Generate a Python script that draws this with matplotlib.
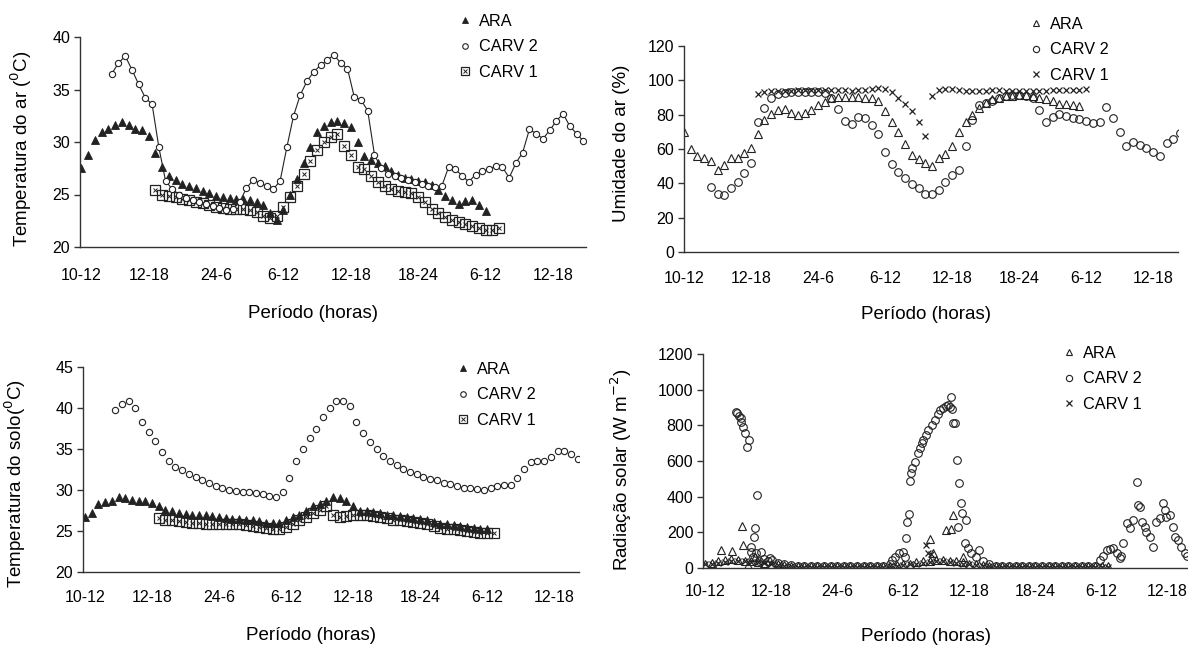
import numpy as np
import matplotlib
matplotlib.use("Agg")
import matplotlib.pyplot as plt
from matplotlib.lines import Line2D

plt.rcParams['font.family'] = ['Liberation Sans', 'DejaVu Sans']

periods = ['10-12', '12-18', '24-6', '6-12', '12-18', '18-24', '6-12', '12-18']
STEP = 0.1  # readings every 0.1 period slot

# --- air temperature (C) ---
air_ara_t0 = 0.0
air_ara = [27.5, 28.8, 30.2, 31.0, 31.2, 31.6, 31.9, 31.6, 31.2, 31.1, 30.6, 29.0, 27.6, 26.8, 26.4,
           26.0, 25.8, 25.6, 25.3, 25.1, 24.9, 24.8, 24.7, 24.6, 24.6, 24.5, 24.3, 24.0, 23.2, 22.6,
           23.5, 25.0, 26.5, 28.0, 29.5, 31.0, 31.5, 31.9, 32.0, 31.8, 31.4, 30.0, 28.7, 28.3, 28.0,
           27.7, 27.2, 26.9, 26.6, 26.5, 26.3, 26.2, 25.9, 25.4, 24.9, 24.5, 24.1, 24.4, 24.5, 24.0, 23.4]
air_carv2_t0 = 0.45
air_carv2 = [36.5, 37.5, 38.2, 36.9, 35.5, 34.2, 33.6, 29.5, 26.3, 25.5, 25.0, 24.7, 24.5, 24.3, 24.1,
             23.9, 23.7, 23.5, 23.6, 24.3, 25.6, 26.4, 26.1, 25.8, 25.5, 26.3, 29.5, 32.5, 34.5, 35.8,
             36.7, 37.3, 37.8, 38.3, 37.5, 37.0, 34.3, 34.0, 33.0, 28.8, 27.5, 27.0, 26.8, 26.6, 26.4,
             26.2, 26.0, 25.8, 25.7, 25.8, 27.6, 27.4, 26.8, 26.2, 26.9, 27.2, 27.4, 27.7, 27.6, 26.6,
             28.0, 29.0, 31.2, 30.8, 30.3, 31.1, 32.0, 32.7, 31.5, 30.8, 30.1]
air_carv1_t0 = 1.1
air_carv1 = [25.4, 25.0, 24.9, 24.8, 24.6, 24.5, 24.3, 24.2, 24.0, 23.8, 23.7, 23.6, 23.6, 23.6, 23.5,
             23.3, 23.0, 22.8, 23.0, 23.8, 24.8, 25.8, 27.0, 28.2, 29.2, 30.0, 30.5, 30.8, 29.6, 28.8,
             27.6, 27.4, 26.8, 26.2, 25.8, 25.5, 25.3, 25.2, 25.1, 24.8, 24.3, 23.6, 23.2, 22.9, 22.6,
             22.4, 22.2, 22.0, 21.8, 21.6, 21.6, 21.8]

# --- air humidity (%) ---
hum_ara_t0 = 0.0
hum_ara = [70, 60, 56, 55, 53, 48, 50.5, 55, 55, 57.5, 60.5, 68.5, 77, 80.5, 82.5, 83.5, 81, 80, 81, 83,
           85.5, 87.5, 90, 90.5, 90.5, 90.5, 90.5, 90, 89.5, 88, 82, 76, 70, 63, 56.5, 54, 52, 50, 55, 57,
           61.5, 70, 76, 80, 84, 87, 89, 90, 91, 91, 91.5, 91.5, 91, 90, 89, 88, 86.5, 86, 85.5, 85]
hum_carv2_t0 = 0.4
hum_carv2 = [38, 33.5, 33.0, 37.5, 40.5, 46.0, 52.0, 76.0, 84.0, 89.5, 92.0, 92.5, 93.0, 93.0, 93.0,
             93.2, 93.0, 92.5, 90.0, 83.5, 76.5, 74.5, 78.5, 78.0, 74.0, 69.0, 58.0, 51.5, 46.5, 43.0,
             39.5, 37.0, 34.0, 34.0, 36.0, 40.5, 45.0, 47.5, 62.0, 77.0, 85.5, 87.0, 88.0, 90.0, 91.0,
             91.5, 91.5, 91.0, 89.5, 83.0, 76.0, 78.5, 80.5, 79.5, 78.0, 77.5, 76.5, 75.0, 75.5, 84.5,
             78.0, 70.0, 62.0, 64.0, 62.5, 60.5, 58.5, 56.0, 63.5, 66.0, 69.5]
hum_carv1_t0 = 1.1
hum_carv1 = [92.0, 93.0, 93.5, 93.8, 94.0, 94.0, 94.2, 94.3, 94.5, 94.5, 94.6, 94.6, 94.5, 94.2, 94.0,
             94.2, 94.5, 95.0, 95.3, 95.0, 93.0, 90.0, 86.0, 82.0, 76.0, 67.5, 91.0, 94.5, 95.0, 94.8,
             94.5, 94.0, 93.8, 93.8, 94.0, 94.2, 94.2, 94.0, 93.8, 93.5, 93.5, 93.8, 94.0, 94.0, 94.2,
             94.3, 94.5, 94.5, 94.6, 94.8]

# --- soil temperature (C) ---
soil_ara_t0 = 0.0
soil_ara = [26.7, 27.2, 28.3, 28.5, 28.7, 29.2, 29.0, 28.8, 28.7, 28.6, 28.4, 28.0, 27.6, 27.4, 27.2,
            27.1, 27.0, 27.0, 26.9, 26.8, 26.7, 26.6, 26.5, 26.5, 26.4, 26.3, 26.2, 26.0, 26.0, 26.0,
            26.3, 26.7, 27.0, 27.4, 28.0, 28.3, 28.7, 29.2, 29.0, 28.6, 28.0, 27.5, 27.4, 27.3, 27.2,
            27.0, 26.9, 26.8, 26.7, 26.6, 26.5, 26.3, 26.1, 25.9, 25.8, 25.7, 25.6, 25.5, 25.4, 25.3, 25.2]
soil_carv2_t0 = 0.45
soil_carv2 = [39.8, 40.5, 40.8, 40.0, 38.3, 37.1, 36.0, 34.6, 33.5, 32.8, 32.4, 32.0, 31.6, 31.2, 30.8,
              30.5, 30.2, 30.0, 29.9, 29.8, 29.7, 29.6, 29.5, 29.3, 29.2, 29.8, 31.5, 33.5, 35.0, 36.3,
              37.4, 38.9, 40.0, 40.8, 40.9, 40.2, 38.3, 37.0, 35.8, 35.0, 34.2, 33.5, 33.0, 32.6, 32.2,
              31.9, 31.6, 31.4, 31.2, 30.9, 30.7, 30.5, 30.3, 30.2, 30.1, 30.0, 30.2, 30.5, 30.6, 30.6,
              31.5, 32.6, 33.4, 33.5, 33.5, 34.0, 34.7, 34.7, 34.4, 33.8]
soil_carv1_t0 = 1.1
soil_carv1 = [26.6, 26.4, 26.3, 26.2, 26.1, 26.0, 26.0, 25.9, 25.9, 25.9, 25.8, 25.8, 25.8, 25.7, 25.6,
              25.5, 25.4, 25.3, 25.3, 25.5, 25.9, 26.3, 26.7, 27.2, 27.6, 28.0, 27.0, 26.7, 26.8, 27.0,
              27.0, 26.9, 26.8, 26.7, 26.6, 26.4, 26.3, 26.2, 26.1, 26.0, 25.8, 25.6, 25.4, 25.3, 25.2,
              25.1, 25.0, 24.9, 24.8, 24.7, 24.8]

# --- solar radiation (W m-2) ---
rad_ara_t0 = 0.0
rad_ara = [25, 30, 38, 45, 48, 45, 42, 38, 35, 30, 25, 20, 15, 12,
           10, 10, 10, 10, 10, 10, 10, 10, 10, 10, 10, 10, 10, 10,
           12, 15, 20, 25, 32, 38, 42, 45, 45, 42, 38, 32, 25, 20, 15, 12,
           10, 10, 10, 10, 10, 10, 10, 10, 10, 10, 10, 10, 10, 10, 10, 10, 10, 10]
rad_ara_peak_t = [0.24, 0.41, 0.56, 0.57, 0.65, 0.75, 3.40, 3.45, 3.65, 3.72, 3.75, 3.90]
rad_ara_peak = [101, 93, 236, 130, 15, 60, 163, 82, 213, 218, 297, 60]
rad_carv1_t0 = 0.0
rad_carv1 = [20, 25, 30, 35, 38, 40, 38, 35, 32, 28, 22, 18, 14, 12,
             8, 8, 8, 8, 8, 8, 8, 8, 8, 8, 8, 8, 8, 8,
             10, 12, 15, 20, 25, 30, 35, 38, 38, 35, 30, 25, 20, 15, 12, 10,
             8, 8, 8, 8, 8, 8, 8, 8, 8, 8, 8, 8, 8, 8, 8, 8, 8, 8]
rad_carv1_peak_t = [3.35, 3.38, 3.42]
rad_carv1_peak = [129, 85, 80]
rad_carv2_t = [0.47, 0.49, 0.52, 0.54, 0.55, 0.58, 0.61, 0.63, 0.66, 0.69, 0.70, 0.72, 0.74, 0.75, 0.77,
               0.79, 0.82, 0.85, 0.90, 0.95, 0.98, 1.02, 1.10, 1.20, 1.30,
               1.4, 1.5, 1.6, 1.7, 1.8, 1.9, 2.0, 2.1, 2.2, 2.3, 2.4, 2.5, 2.6, 2.7,
               2.80, 2.83, 2.88, 2.93, 2.99, 3.02, 3.04, 3.05, 3.08, 3.10, 3.11, 3.14, 3.18, 3.22, 3.25,
               3.28, 3.30, 3.34, 3.38, 3.43, 3.48, 3.53, 3.56, 3.60, 3.64, 3.68, 3.71, 3.73, 3.74, 3.76,
               3.78, 3.81, 3.83, 3.85, 3.88, 3.89, 3.93, 3.95, 3.98, 4.03, 4.10, 4.15, 4.20, 4.30, 4.40,
               4.5, 4.6, 4.7, 4.8, 4.9, 5.0, 5.1, 5.2, 5.3, 5.4, 5.5, 5.6, 5.7, 5.8, 5.9,
               5.98, 6.03, 6.08, 6.13, 6.18, 6.23, 6.28, 6.30, 6.33, 6.38, 6.43, 6.48, 6.53, 6.55, 6.58,
               6.61, 6.66, 6.68, 6.73, 6.78, 6.83, 6.88, 6.93, 6.96, 6.98, 7.03, 7.08, 7.11, 7.16, 7.21,
               7.26, 7.30]
rad_carv2 = [877, 867, 852, 839, 820, 789, 755, 680, 718, 92, 120, 60, 176, 222, 82,
             409, 40, 92, 50, 40, 54, 45, 30, 20, 15,
             10, 10, 10, 10, 10, 10, 10, 10, 10, 10, 10, 10, 10, 10,
             20, 45, 60, 82, 92, 60, 170, 256, 305, 488, 531, 559, 596, 643, 671,
             699, 718, 746, 774, 802, 830, 863, 885, 900, 910, 912, 905, 961, 890, 811,
             811, 606, 232, 475, 363, 307, 138, 269, 110, 82, 60, 101, 40, 20, 12,
             10, 10, 10, 10, 10, 10, 10, 10, 10, 10, 10, 10, 10, 10, 10,
             45, 70, 101, 105, 110, 82, 54, 70, 138, 250, 222, 269, 484, 353, 344,
             260, 232, 204, 176, 120, 260, 278, 363, 325, 288, 300, 232, 176, 157, 120,
             82, 70]

W, H = 1188, 646
INK = '#222222'
fig = plt.figure(figsize=(W / 100, H / 100), dpi=100)


def make_axes(left, top, right, bottom):
    return fig.add_axes([left / W, 1 - bottom / H, (right - left) / W, (bottom - top) / H])


def slots(t0, vals):
    return t0 + STEP * np.arange(len(vals))


def style(ax, xlim, ylim, yticks, ylabel, ylab_xy, xlab_xy, xpad):
    ax.set_xlim(*xlim)
    ax.set_ylim(*ylim)
    ax.set_yticks(yticks)
    ax.set_xticks(range(len(periods)))
    ax.set_xticklabels(periods)
    for s in ['top', 'right']:
        ax.spines[s].set_visible(False)
    for s in ['left', 'bottom']:
        ax.spines[s].set_color('#333333')
        ax.spines[s].set_linewidth(1.0)
    ax.tick_params(axis='x', length=0, pad=xpad, labelsize=11.5)
    ax.tick_params(axis='y', length=4, width=1, color='#333333', pad=3, labelsize=11.5)
    ax.set_ylabel(ylabel, fontsize=13.5)
    ax.set_xlabel('Período (horas)', fontsize=13.5)
    ax.yaxis.set_label_coords(*ylab_xy)
    ax.xaxis.set_label_coords(*xlab_xy)


def legend(ax, handles, left, top):
    ax.legend(handles, ['ARA', 'CARV 2', 'CARV 1'], loc='upper left',
              bbox_to_anchor=(left / W, 1 - top / H), bbox_transform=fig.transFigure,
              frameon=False, fontsize=11.7, handlelength=1.0, handletextpad=0.35,
              labelspacing=0.64, borderpad=0, borderaxespad=0)


tri_f = dict(ls='none', marker='^', ms=5.5, color=INK, mfc=INK, mew=0.6)
tri_o = dict(ls='none', marker='^', ms=5.5, color=INK, mfc='none', mew=0.8)
circ_s = dict(ls='none', marker='o', ms=4.5, color=INK, mfc='white', mew=0.8)
circ_o = dict(ls='none', marker='o', ms=5.5, color=INK, mfc='none', mew=0.8)
sq = dict(ls='none', marker='s', ms=7, color=INK, mfc='none', mew=0.9)
sq_x = dict(ls='none', marker='x', ms=3.5, color=INK, mew=0.7)
cross = dict(ls='none', marker='x', ms=5, color=INK, mew=0.9)


def box_handle():
    return (Line2D([], [], **dict(sq, ms=6)), Line2D([], [], **sq_x))


# panel 1: air temperature
ax1 = make_axes(80, 37, 586, 247)
x = slots(air_ara_t0, air_ara)
ax1.plot(x, air_ara, **tri_f)
x = slots(air_carv1_t0, air_carv1)
ax1.plot(x, air_carv1, **sq)
ax1.plot(x, air_carv1, **sq_x)
x = slots(air_carv2_t0, air_carv2)
ax1.plot(x, air_carv2, '-', color=INK, lw=0.8)
ax1.plot(x, air_carv2, **circ_s)
style(ax1, (-0.02, 7.49), (20, 40), range(20, 41, 5), 'Temperatura do ar ($^0$C)',
      (-0.09, 0.47), (0.46, -0.275), 15)
legend(ax1, [Line2D([], [], **dict(tri_f, ms=4.5)), Line2D([], [], **dict(circ_s, ms=4)),
             box_handle()], 457, 14)

# panel 2: air humidity
ax2 = make_axes(684, 46, 1178, 252)
ax2.plot(slots(hum_ara_t0, hum_ara), hum_ara, **tri_o)
ax2.plot(slots(hum_carv2_t0, hum_carv2), hum_carv2, **circ_o)
ax2.plot(slots(hum_carv1_t0, hum_carv1), hum_carv1, **cross)
style(ax2, (0, 7.37), (0, 120), range(0, 121, 20), 'Umidade do ar (%)',
      (-0.11, 0.527), (0.49, -0.26), 14)
legend(ax2, [Line2D([], [], **dict(tri_o, ms=4.5)), Line2D([], [], **dict(circ_o, ms=4.5)),
             Line2D([], [], **dict(cross, ms=4))], 1028, 17)

# panel 3: soil temperature
ax3 = make_axes(83, 367, 579, 572)
ax3.plot(slots(soil_ara_t0, soil_ara), soil_ara, **tri_f)
x = slots(soil_carv1_t0, soil_carv1)
ax3.plot(x, soil_carv1, **sq)
ax3.plot(x, soil_carv1, **sq_x)
ax3.plot(slots(soil_carv2_t0, soil_carv2), soil_carv2, **circ_s)
style(ax3, (-0.03, 7.37), (20, 45), range(20, 46, 5), 'Temperatura do solo($^0$C)',
      (-0.11, 0.434), (0.46, -0.27), 13)
legend(ax3, [Line2D([], [], **dict(tri_f, ms=4.5)), Line2D([], [], **dict(circ_s, ms=4)),
             box_handle()], 455, 362)

# panel 4: solar radiation
ax4 = make_axes(703, 354, 1198, 568)
ax4.plot(slots(rad_ara_t0, rad_ara), rad_ara, **tri_o)
ax4.plot(rad_ara_peak_t, rad_ara_peak, **tri_o)
ax4.plot(slots(rad_carv1_t0, rad_carv1), rad_carv1, **cross)
ax4.plot(rad_carv1_peak_t, rad_carv1_peak, **cross)
ax4.plot(rad_carv2_t, rad_carv2, **circ_o)
style(ax4, (-0.03, 7.46), (0, 1200), range(0, 1201, 200), 'Radiação solar (W m$^{-2}$)',
      (-0.14, 0.458), (0.45, -0.28), 11.5)
legend(ax4, [Line2D([], [], **dict(tri_o, ms=4.5)), Line2D([], [], **dict(circ_o, ms=4.5)),
             Line2D([], [], **dict(cross, ms=4))], 1061, 346)

fig.savefig('out.png', dpi=100)
